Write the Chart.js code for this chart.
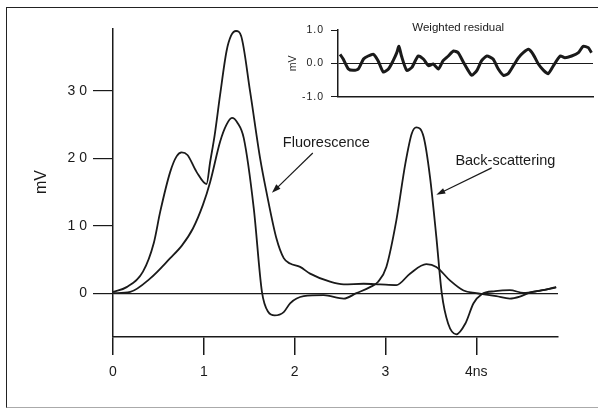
<!DOCTYPE html>
<html>
<head>
<meta charset="utf-8">
<script src="https://cdn.jsdelivr.net/npm/chart.js@4.4.1/dist/chart.umd.min.js"></script>
<style>
  body { margin: 0; background: #fff; }
  #wrap { position: relative; width: 598px; height: 410px; overflow: hidden; }
  #frame { position: absolute; left: 6px; top: 7px; width: 620px; height: 399px;
           border-top: 1.5px solid #222; border-left: 1.5px solid #222; border-bottom: 1px solid #aaa; }
  canvas { position: absolute; }
</style>
</head>
<body>
<div id="wrap">
  <div id="frame"></div>
  <canvas id="main" width="598" height="410" style="left:0;top:0"></canvas>
  <canvas id="inset" width="328" height="98" style="left:270px;top:12px"></canvas>
</div>
<script>
var fontFamily = '"Liberation Sans", Arial, sans-serif';
var ink = '#1a1a1a';

// tick values
var timeTicks = [0, 1, 2, 3, 4];
var voltTicks = [0, 10, 20, 30];
var residualTicks = [-1, 0, 1];

// Fluorescence (ns, mV)
var fluorTime = [0, 0.15, 0.33, 0.45, 0.52, 0.63, 0.7, 0.756, 0.82, 0.92, 1.03, 1.07, 1.12, 1.18, 1.25, 1.3, 1.355, 1.41, 1.51, 1.62, 1.69, 1.8, 1.88, 1.95, 2.06, 2.17, 2.39, 2.54, 2.76, 2.94, 3.12, 3.27, 3.45, 3.56, 3.71, 3.86, 4.0, 4.22, 4.37, 4.48, 4.59, 4.74, 4.88];
var fluorValues = [0.2, 0.9, 3.2, 7.5, 12.1, 18, 20.3, 20.9, 20.5, 18, 16.2, 19.5, 23.5, 29.5, 35.9, 38.2, 38.9, 38.2, 29.9, 20, 15, 8.1, 5.2, 4.4, 3.9, 2.9, 1.7, 1.3, 1.4, 1.3, 1.2, 2.9, 4.3, 3.9, 1.9, 0.4, 0, -0.45, -0.8, -0.5, 0.1, 0.45, 0.85];

// Back-scattering (ns, mV)
var backTime = [0, 0.19, 0.41, 0.63, 0.76, 0.88, 0.99, 1.07, 1.18, 1.25, 1.31, 1.37, 1.44, 1.55, 1.64, 1.71, 1.78, 1.88, 1.95, 2.1, 2.32, 2.54, 2.68, 2.83, 2.92, 3.01, 3.12, 3.22, 3.29, 3.34, 3.42, 3.49, 3.56, 3.62, 3.69, 3.78, 3.88, 3.97, 4.06, 4.21, 4.37, 4.52, 4.67, 4.88];
var backValues = [0, 0.2, 2.2, 5.2, 7.1, 9.6, 13.1, 16.5, 22.5, 25, 26, 25.3, 23, 12.6, 0.2, -2.8, -3.3, -2.8, -1.5, -0.45, -0.3, -0.8, 0, 0.9, 1.7, 3.9, 10.8, 19.3, 23.7, 24.6, 23.2, 17.3, 8.4, 0, -4.5, -6.1, -4.5, -1.5, -0.15, 0.3, 0.45, 0.05, 0.3, 0.9];

// Weighted residual (ns, mV)
var residualTime = [0.04, 0.1, 0.2, 0.29, 0.39, 0.49, 0.58, 0.68, 0.77, 0.87, 0.97, 1.06, 1.13, 1.17, 1.22, 1.32, 1.42, 1.54, 1.64, 1.74, 1.83, 1.93, 2.02, 2.12, 2.22, 2.31, 2.41, 2.5, 2.57, 2.67, 2.76, 2.86, 2.98, 3.08, 3.18, 3.27, 3.37, 3.47, 3.56, 3.66, 3.75, 3.85, 3.95, 4.04, 4.14, 4.27, 4.36, 4.49, 4.62, 4.71, 4.81, 4.87];
var residualValues = [0.27, 0.13, -0.17, -0.21, -0.17, 0.13, 0.22, 0.27, 0.08, -0.26, -0.17, 0.08, 0.32, 0.51, 0.22, -0.21, -0.12, 0.22, 0.13, -0.07, -0.02, -0.17, 0.08, 0.22, 0.37, 0.32, 0.03, -0.21, -0.36, -0.21, 0.08, 0.22, 0.13, -0.17, -0.36, -0.31, -0.07, 0.17, 0.32, 0.42, 0.27, -0.02, -0.21, -0.31, -0.07, 0.22, 0.17, 0.22, 0.32, 0.51, 0.47, 0.32];

function toPoints(xs, ys) {
    return xs.map(function (x, i) { return { x: x, y: ys[i] }; });
}

function zeroLine(c) {
    return c.tick && c.tick.value === 0 ? ink : 'rgba(0,0,0,0)';
}

function drawArrow(ctx, x1, y1, x2, y2) {
    var a = Math.atan2(y2 - y1, x2 - x1);
    ctx.beginPath();
    ctx.moveTo(x1, y1);
    ctx.lineTo(x2 - 6 * Math.cos(a), y2 - 6 * Math.sin(a));
    ctx.stroke();
    ctx.beginPath();
    ctx.moveTo(x2, y2);
    ctx.lineTo(x2 - 9 * Math.cos(a) + 3 * Math.sin(a), y2 - 9 * Math.sin(a) - 3 * Math.cos(a));
    ctx.lineTo(x2 - 9 * Math.cos(a) - 3 * Math.sin(a), y2 - 9 * Math.sin(a) + 3 * Math.cos(a));
    ctx.closePath();
    ctx.fill();
}

var mainNotes = {
    id: 'mainNotes',
    beforeDraw: function (chart) { chart.ctx.letterSpacing = '4px'; },
    beforeDatasetsDraw: function (chart) { chart.ctx.letterSpacing = '0px'; },
    afterDraw: function (chart) {
        var ctx = chart.ctx, sx = chart.scales.x, sy = chart.scales.y;
        ctx.save();
        ctx.letterSpacing = '0px';
        ctx.fillStyle = ink;
        ctx.strokeStyle = ink;
        ctx.lineWidth = 1.2;

        ctx.save();
        ctx.font = '16px ' + fontFamily;
        ctx.translate(chart.chartArea.left - 71, sy.getPixelForValue(16.5));
        ctx.rotate(-Math.PI / 2);
        ctx.textAlign = 'center';
        ctx.textBaseline = 'middle';
        ctx.fillText('mV', 0, 0);
        ctx.restore();

        ctx.font = '14.5px ' + fontFamily;
        ctx.textBaseline = 'middle';
        ctx.fillText('Fluorescence', sx.getPixelForValue(1.87), sy.getPixelForValue(22.3));
        ctx.fillText('Back-scattering', sx.getPixelForValue(3.77), sy.getPixelForValue(19.6));
        drawArrow(ctx, sx.getPixelForValue(2.2), sy.getPixelForValue(20.8), sx.getPixelForValue(1.75), sy.getPixelForValue(14.9));
        drawArrow(ctx, sx.getPixelForValue(4.17), sy.getPixelForValue(18.6), sx.getPixelForValue(3.56), sy.getPixelForValue(14.6));
        ctx.restore();
    }
};

var insetNotes = {
    id: 'insetNotes',
    beforeDraw: function (chart) { chart.ctx.letterSpacing = '1px'; },
    afterDraw: function (chart) {
        var ctx = chart.ctx, sx = chart.scales.x, sy = chart.scales.y;
        ctx.save();
        ctx.letterSpacing = '0px';
        ctx.fillStyle = ink;
        ctx.font = '11.5px ' + fontFamily;
        ctx.textAlign = 'center';
        ctx.textBaseline = 'middle';
        ctx.fillText('Weighted residual', sx.getPixelForValue(2.31), sy.getPixelForValue(1.06));
        ctx.font = '10.5px ' + fontFamily;
        ctx.translate(chart.chartArea.left - 45, sy.getPixelForValue(0));
        ctx.rotate(-Math.PI / 2);
        ctx.fillText('mV', 0, 0);
        ctx.restore();
    }
};

new Chart(document.getElementById('main').getContext('2d'), {
    type: 'line',
    data: {
        datasets: [{
            label: 'Fluorescence',
            data: toPoints(fluorTime, fluorValues),
            borderColor: ink,
            borderWidth: 1.8,
            pointRadius: 0,
            cubicInterpolationMode: 'monotone'
        }, {
            label: 'Back-scattering',
            data: toPoints(backTime, backValues),
            borderColor: ink,
            borderWidth: 1.8,
            pointRadius: 0,
            cubicInterpolationMode: 'monotone'
        }]
    },
    options: {
        responsive: false,
        animation: false,
        layout: { padding: { left: 0, top: 29, right: 40, bottom: 0 } },
        plugins: { legend: { display: false }, tooltip: { enabled: false } },
        scales: {
            x: {
                type: 'linear',
                min: 0,
                max: 4.9,
                afterBuildTicks: function (s) { s.ticks = timeTicks.map(function (v) { return { value: v }; }); },
                afterFit: function (s) { s.height = 73; },
                border: { color: ink, width: 1.5 },
                grid: { drawOnChartArea: false, tickColor: ink, tickLength: 18, lineWidth: 1.5 },
                ticks: {
                    z: 1,
                    color: ink,
                    padding: 9,
                    maxRotation: 0,
                    font: { size: 14, family: fontFamily },
                    callback: function (v) { return v === 4 ? '4ns' : String(v); }
                }
            },
            y: {
                type: 'linear',
                min: -6.5,
                max: 39.2,
                afterBuildTicks: function (s) { s.ticks = voltTicks.map(function (v) { return { value: v }; }); },
                afterFit: function (s) { s.width = 113; },
                border: { color: ink, width: 1.5 },
                grid: { color: zeroLine, tickColor: ink, tickLength: 20, lineWidth: 1.2 },
                ticks: { color: ink, padding: 2, font: { size: 14, family: fontFamily } }
            }
        }
    },
    plugins: [mainNotes]
});

new Chart(document.getElementById('inset').getContext('2d'), {
    type: 'line',
    data: {
        datasets: [{
            label: 'Weighted residual',
            data: toPoints(residualTime, residualValues),
            borderColor: ink,
            borderWidth: 3,
            pointRadius: 0,
            tension: 0.2
        }]
    },
    options: {
        responsive: false,
        animation: false,
        layout: { padding: { left: 0, top: 18, right: 5, bottom: 11 } },
        plugins: { legend: { display: false }, tooltip: { enabled: false } },
        scales: {
            x: {
                type: 'linear',
                min: 0,
                max: 4.9,
                afterFit: function (s) { s.height = 0; },
                border: { color: ink, width: 1.5 },
                grid: { drawOnChartArea: false, drawTicks: false },
                ticks: { display: false }
            },
            y: {
                type: 'linear',
                min: -1,
                max: 1,
                afterBuildTicks: function (s) { s.ticks = residualTicks.map(function (v) { return { value: v }; }); },
                afterFit: function (s) { s.width = 68; },
                border: { color: ink, width: 1.5 },
                grid: { color: zeroLine, tickColor: ink, tickLength: 7, lineWidth: 1 },
                ticks: {
                    color: ink,
                    padding: 7,
                    font: { size: 10.5, family: fontFamily },
                    callback: function (v) { return v.toFixed(1); }
                }
            }
        }
    },
    plugins: [insetNotes]
});
</script>
</body>
</html>
